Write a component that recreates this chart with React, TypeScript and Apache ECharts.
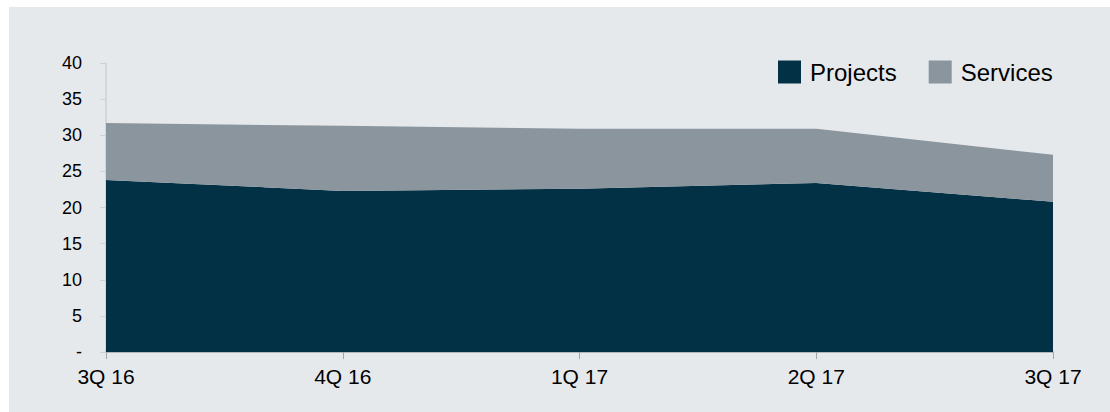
import React, { useEffect, useRef } from "react";
import * as echarts from "echarts";

const categories = ["3Q 16", "4Q 16", "1Q 17", "2Q 17", "3Q 17"];
const projects = [23.8, 22.3, 22.6, 23.4, 20.8];
const services = [7.9, 9.0, 8.3, 7.5, 6.5];

const FONT = "'Liberation Sans', Arial, sans-serif";

export default function App() {
  const ref = useRef<HTMLDivElement>(null);
  useEffect(() => {
    if (!ref.current) return;
    const chart = echarts.init(ref.current, undefined, { renderer: "svg" });
    chart.setOption({
      animation: false,
      backgroundColor: "#E6E9EC",
      textStyle: { fontFamily: FONT },
      legend: {
        left: 769,
        top: 53,
        padding: 0,
        itemWidth: 23,
        itemHeight: 23,
        itemGap: 32,
        icon: "rect",
        textStyle: { fontSize: 24, color: "#000", fontFamily: FONT, padding: [0, 0, 0, 4] },
        data: ["Projects", "Services"],
      },
      grid: { left: 97, top: 56, right: 57, bottom: 60, containLabel: false },
      xAxis: {
        type: "category",
        boundaryGap: false,
        data: categories,
        axisLine: { show: true, lineStyle: { color: "#A3A6A9", width: 1.5 } },
        axisTick: { show: true, length: 7, lineStyle: { color: "#A3A6A9" } },
        axisLabel: { fontSize: 21, color: "#000", margin: 14, fontFamily: FONT },
        splitLine: { show: false },
      },
      yAxis: {
        type: "value",
        min: 0,
        max: 40,
        interval: 5,
        axisLine: { show: true, lineStyle: { color: "#CDD1D5", width: 1.5 } },
        axisTick: { show: true, length: 6, lineStyle: { color: "#CDD1D5" } },
        axisLabel: {
          fontSize: 18,
          color: "#000",
          margin: 24,
          fontFamily: FONT,
          formatter: (v: number) => (v === 0 ? "-" : String(v)),
        },
        splitLine: { show: false },
      },
      series: [
        {
          name: "Projects",
          type: "line",
          stack: "total",
          data: projects,
          showSymbol: false,
          symbol: "none",
          lineStyle: { width: 0 },
          itemStyle: { color: "#023145" },
          areaStyle: { color: "#023145", opacity: 1 },
        },
        {
          name: "Services",
          type: "line",
          stack: "total",
          data: services,
          showSymbol: false,
          symbol: "none",
          lineStyle: { width: 0 },
          itemStyle: { color: "#8A959E" },
          areaStyle: { color: "#8A959E", opacity: 1 },
        },
      ],
    });
    return () => chart.dispose();
  }, []);
  return (
    <div
      ref={ref}
      style={{ position: "fixed", left: 9, top: 7, width: 1101, height: 405 }}
    />
  );
}
